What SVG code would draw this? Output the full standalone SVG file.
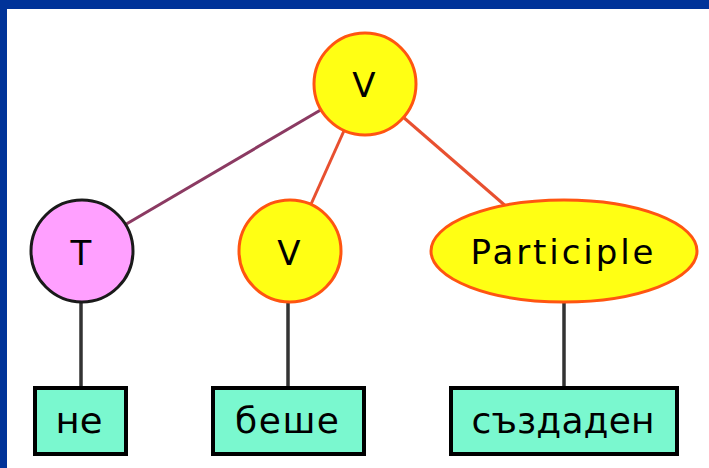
<svg xmlns="http://www.w3.org/2000/svg" width="709" height="468" viewBox="0 0 709 468">
  <style>
    .lbl { font-family: "DejaVu Sans", "Liberation Sans", sans-serif; font-size: 34px; fill: #000; text-anchor: middle; }
    .word { font-family: "DejaVu Sans", "Liberation Sans", sans-serif; font-size: 36px; fill: #000; text-anchor: middle; }
    .verb { fill: #ffff14; stroke: #ff5511; stroke-width: 3; }
    .tense { fill: #ffa0ff; stroke: #1a1a1a; stroke-width: 3; }
    .leaf { fill: #7af8cf; stroke: #000; stroke-width: 4; }
    .stem { stroke: #333; stroke-width: 3.5; }
  </style>

  <!-- frame -->
  <rect x="0" y="0" width="709" height="468" fill="#fff"/>
  <rect x="0" y="0" width="709" height="9" fill="#003399"/>
  <rect x="0" y="0" width="7" height="468" fill="#003399"/>

  <g id="connectors" fill="none">
    <line x1="365" y1="84" x2="82" y2="250" stroke="#8b3a62" stroke-width="3"/>
    <line x1="365" y1="84" x2="290" y2="251" stroke="#e85030" stroke-width="3"/>
    <line x1="365" y1="84" x2="508" y2="208" stroke="#e85030" stroke-width="3"/>
    <line class="stem" x1="81" y1="300" x2="81" y2="388"/>
    <line class="stem" x1="288" y1="302" x2="288" y2="388"/>
    <line class="stem" x1="564" y1="302" x2="564" y2="388"/>
  </g>

  <g id="node-v-top">
    <circle class="verb" cx="365" cy="84" r="51"/>
    <text class="lbl" x="364" y="97">V</text>
  </g>

  <g id="node-t">
    <circle class="tense" cx="82" cy="251" r="51"/>
    <text class="lbl" x="81" y="265">T</text>
  </g>

  <g id="node-v">
    <circle class="verb" cx="290" cy="251" r="51"/>
    <text class="lbl" x="289" y="265">V</text>
  </g>

  <g id="node-participle">
    <ellipse class="verb" cx="564" cy="251" rx="133" ry="51"/>
    <text class="lbl" x="562" y="264" textLength="183" lengthAdjust="spacing">Participle</text>
  </g>

  <g id="leaf-ne">
    <rect class="leaf" x="35" y="388" width="91" height="66"/>
    <text class="word" x="79" y="433" textLength="47" lengthAdjust="spacingAndGlyphs">не</text>
  </g>

  <g id="leaf-beshe">
    <rect class="leaf" x="213" y="388" width="151" height="66"/>
    <text class="word" x="287" y="433" textLength="104" lengthAdjust="spacing">беше</text>
  </g>

  <g id="leaf-sazdaden">
    <rect class="leaf" x="451" y="388" width="226" height="66"/>
    <text class="word" x="563" y="433" textLength="183" lengthAdjust="spacing">създаден</text>
  </g>
</svg>
